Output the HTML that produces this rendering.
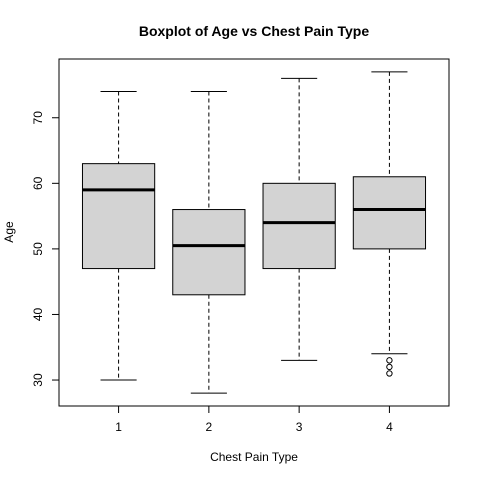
<!DOCTYPE html>
<html><head><meta charset="utf-8"><style>
body{margin:0;background:#fff}
svg text{font-family:"Liberation Sans",sans-serif;fill:#000}
</style></head><body>
<svg id="chart" width="480" height="480">
<rect width="480" height="480" fill="#fff"/>
<text x="254" y="36" font-size="14" font-weight="bold" text-anchor="middle">Boxplot of Age vs Chest Pain Type</text>
<text x="254" y="461" font-size="12" text-anchor="middle">Chest Pain Type</text>
<text x="13" y="232" font-size="12" text-anchor="middle" transform="rotate(-90 13 232)">Age</text>
<rect x="59" y="59" width="390" height="347" fill="none" stroke="#000"/>
<g id="marks"></g>
</svg>
<script>
const categories=["1","2","3","4"];
const lowerWhisker=[30,28,33,34];
const q1=[47,43,47,50];
const medians=[59,50.5,54,56];
const q3=[63,56,60,61];
const upperWhisker=[74,74,76,77];
const outliers=[[],[],[],[33,32,31]];
const yTicks=[30,40,50,60,70];

const ns="http://www.w3.org/2000/svg";
const g=document.getElementById('marks');
const yMin=26.04,yMax=78.96,pTop=59,pBot=406;
const xMin=0.34,xMax=4.66,pLeft=59,pRight=449;
const y=v=>pBot-(v-yMin)/(yMax-yMin)*(pBot-pTop);
const x=i=>pLeft+(i-xMin)/(xMax-xMin)*(pRight-pLeft);
function el(t,a,p){const e=document.createElementNS(ns,t);for(const k in a)e.setAttribute(k,a[k]);(p||g).appendChild(e);return e;}
const hw=0.4*(pRight-pLeft)/(xMax-xMin);
categories.forEach((c,i)=>{
  const cx=x(i+1);
  const grp=el('g',{});
  
  
  el('line',{x1:cx,x2:cx,y1:y(upperWhisker[i]),y2:y(q3[i]),stroke:'#000','stroke-dasharray':'4,3'},grp);
  el('line',{x1:cx,x2:cx,y1:y(q1[i]),y2:y(lowerWhisker[i]),stroke:'#000','stroke-dasharray':'4,3'},grp);
  el('line',{x1:cx-hw/2,x2:cx+hw/2,y1:y(upperWhisker[i]),y2:y(upperWhisker[i]),stroke:'#000'},grp);
  el('line',{x1:cx-hw/2,x2:cx+hw/2,y1:y(lowerWhisker[i]),y2:y(lowerWhisker[i]),stroke:'#000'},grp);
  el('rect',{x:cx-hw,y:y(q3[i]),width:2*hw,height:y(q1[i])-y(q3[i]),fill:'#d3d3d3',stroke:'#000'},grp);
  el('line',{x1:cx-hw,x2:cx+hw,y1:y(medians[i]),y2:y(medians[i]),stroke:'#000','stroke-width':3},grp);
  outliers[i].forEach(v=>{
    const o=el('circle',{cx:cx,cy:y(v),r:2.7,fill:'none',stroke:'#000'},grp);
    
    
  });
  el('line',{x1:cx,x2:cx,y1:pBot,y2:pBot+7,stroke:'#000'});
  const t=el('text',{x:cx,y:pBot+25,'font-size':12,'text-anchor':'middle'});
  t.textContent=c;
  
  
});
el('line',{x1:x(1),x2:x(4),y1:pBot,y2:pBot,stroke:'#000'});
el('line',{x1:pLeft,x2:pLeft,y1:y(yTicks[0]),y2:y(yTicks[yTicks.length-1]),stroke:'#000'});
yTicks.forEach(v=>{
  el('line',{x1:pLeft-7,x2:pLeft,y1:y(v),y2:y(v),stroke:'#000'});
  const t=el('text',{x:42,y:y(v),'font-size':12,'text-anchor':'middle',transform:`rotate(-90 42 ${y(v)})`});
  t.textContent=v;
  
  
});
</script>
</body></html>
